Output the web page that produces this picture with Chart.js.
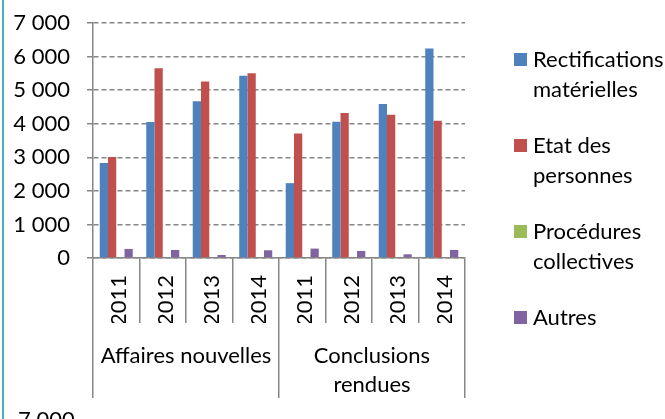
<!DOCTYPE html>
<html>
<head>
<meta charset="utf-8">
<script src="https://cdn.jsdelivr.net/npm/chart.js@4.4.0/dist/chart.umd.min.js"></script>
<style>
  html, body { margin: 0; padding: 0; background: #fff; overflow: hidden; }
  #wrap { position: relative; width: 665px; height: 419px; }
  #frame { position: absolute; left: 2px; top: 0; width: 2px; height: 419px; background: #4bacc6; }
  #next { position: absolute; left: 18px; top: 405px; font: 22px Lato; color: #000; }
</style>
</head>
<body>
<div id="wrap">
  <canvas id="myChart" width="665" height="419"></canvas>
  <div id="frame"></div>
  <div id="next">7 000</div>
</div>
<script>
const years = ["2011", "2012", "2013", "2014", "2011", "2012", "2013", "2014"];
const groups = [["Affaires nouvelles"], ["Conclusions", "rendues"]];
const seriesNames = [["Rectifications", "matérielles"], ["Etat des", "personnes"], ["Procédures", "collectives"], ["Autres"]];
const rectifications = [2830, 4050, 4670, 5430, 2230, 4060, 4590, 6240];
const etatPersonnes = [3010, 5650, 5260, 5500, 3710, 4320, 4270, 4090];
const proceduresCollectives = [0, 0, 0, 0, 0, 0, 0, 0];
const autres = [270, 240, 90, 230, 280, 210, 110, 240];
const yMax = 7000;
const yStep = 1000;

const colors = ["#4f81bd", "#c0504d", "#9bbb59", "#8064a2"];
const axisGray = "#868686";

Chart.defaults.font.family = "Lato";
Chart.defaults.font.size = 22;
Chart.defaults.color = "#000";

// legend drawn on the right, one entry per series, wrapped on two lines
const sideLegend = {
  id: "sideLegend",
  afterDraw(chart) {
    const ctx = chart.ctx;
    ctx.save();
    ctx.font = "22px Lato";
    ctx.textBaseline = "middle";
    chart.data.datasets.forEach((ds, i) => {
      const y = 60 + i * 86;
      ctx.fillStyle = ds.backgroundColor;
      ctx.fillRect(514, y - 7, 13, 13);
      ctx.fillStyle = "#000";
      seriesNames[i].forEach((line, j) => ctx.fillText(line, 533, y + j * 30));
    });
    ctx.restore();
  }
};

const ctx = document.getElementById("myChart").getContext("2d");
const myChart = new Chart(ctx, {
  type: "bar",
  data: {
    labels: years,
    datasets: [
      { label: seriesNames[0].join(" "), data: rectifications, backgroundColor: colors[0] },
      { label: seriesNames[1].join(" "), data: etatPersonnes, backgroundColor: colors[1] },
      { label: seriesNames[2].join(" "), data: proceduresCollectives, backgroundColor: colors[2] },
      { label: seriesNames[3].join(" "), data: autres, backgroundColor: colors[3] },
    ],
  },
  options: {
    responsive: false,
    animation: false,
    layout: { padding: { left: 6, right: 200, top: 23, bottom: 21 } },
    datasets: { bar: { categoryPercentage: 0.71, barPercentage: 1 } },
    plugins: {
      legend: { display: false },
      tooltip: { enabled: false },
    },
    scales: {
      y: {
        min: 0,
        max: yMax,
        ticks: {
          stepSize: yStep,
          padding: 17,
          font: { lineHeight: 0.4 },
          callback: (v) => String(v).replace(/\B(?=(\d{3})+(?!\d))/g, " "),
        },
        grid: { color: axisGray, lineWidth: 1.5, tickLength: 6 },
        border: { color: axisGray, width: 1.5, dash: [5, 3] },
        afterFit: (s) => { s.width = 87; },
      },
      x: {
        grid: { offset: true, drawOnChartArea: false, tickLength: 65, color: axisGray, lineWidth: 1.5 },
        border: { color: axisGray, width: 1.5 },
        ticks: { minRotation: 90, maxRotation: 90, autoSkip: false, padding: -48, labelOffset: 3 },
        afterFit: (s) => { s.height = 65; },
      },
      x2: {
        type: "category",
        position: "bottom",
        labels: groups,
        grid: { offset: true, drawOnChartArea: false, tickLength: 75, color: axisGray, lineWidth: 1.5 },
        border: { display: false },
        ticks: { padding: -57, autoSkip: false, maxRotation: 0, font: { lineHeight: 1.32 } },
        afterFit: (s) => { s.height = 75; },
      },
    },
  },
  plugins: [sideLegend],
});
</script>
</body>
</html>
